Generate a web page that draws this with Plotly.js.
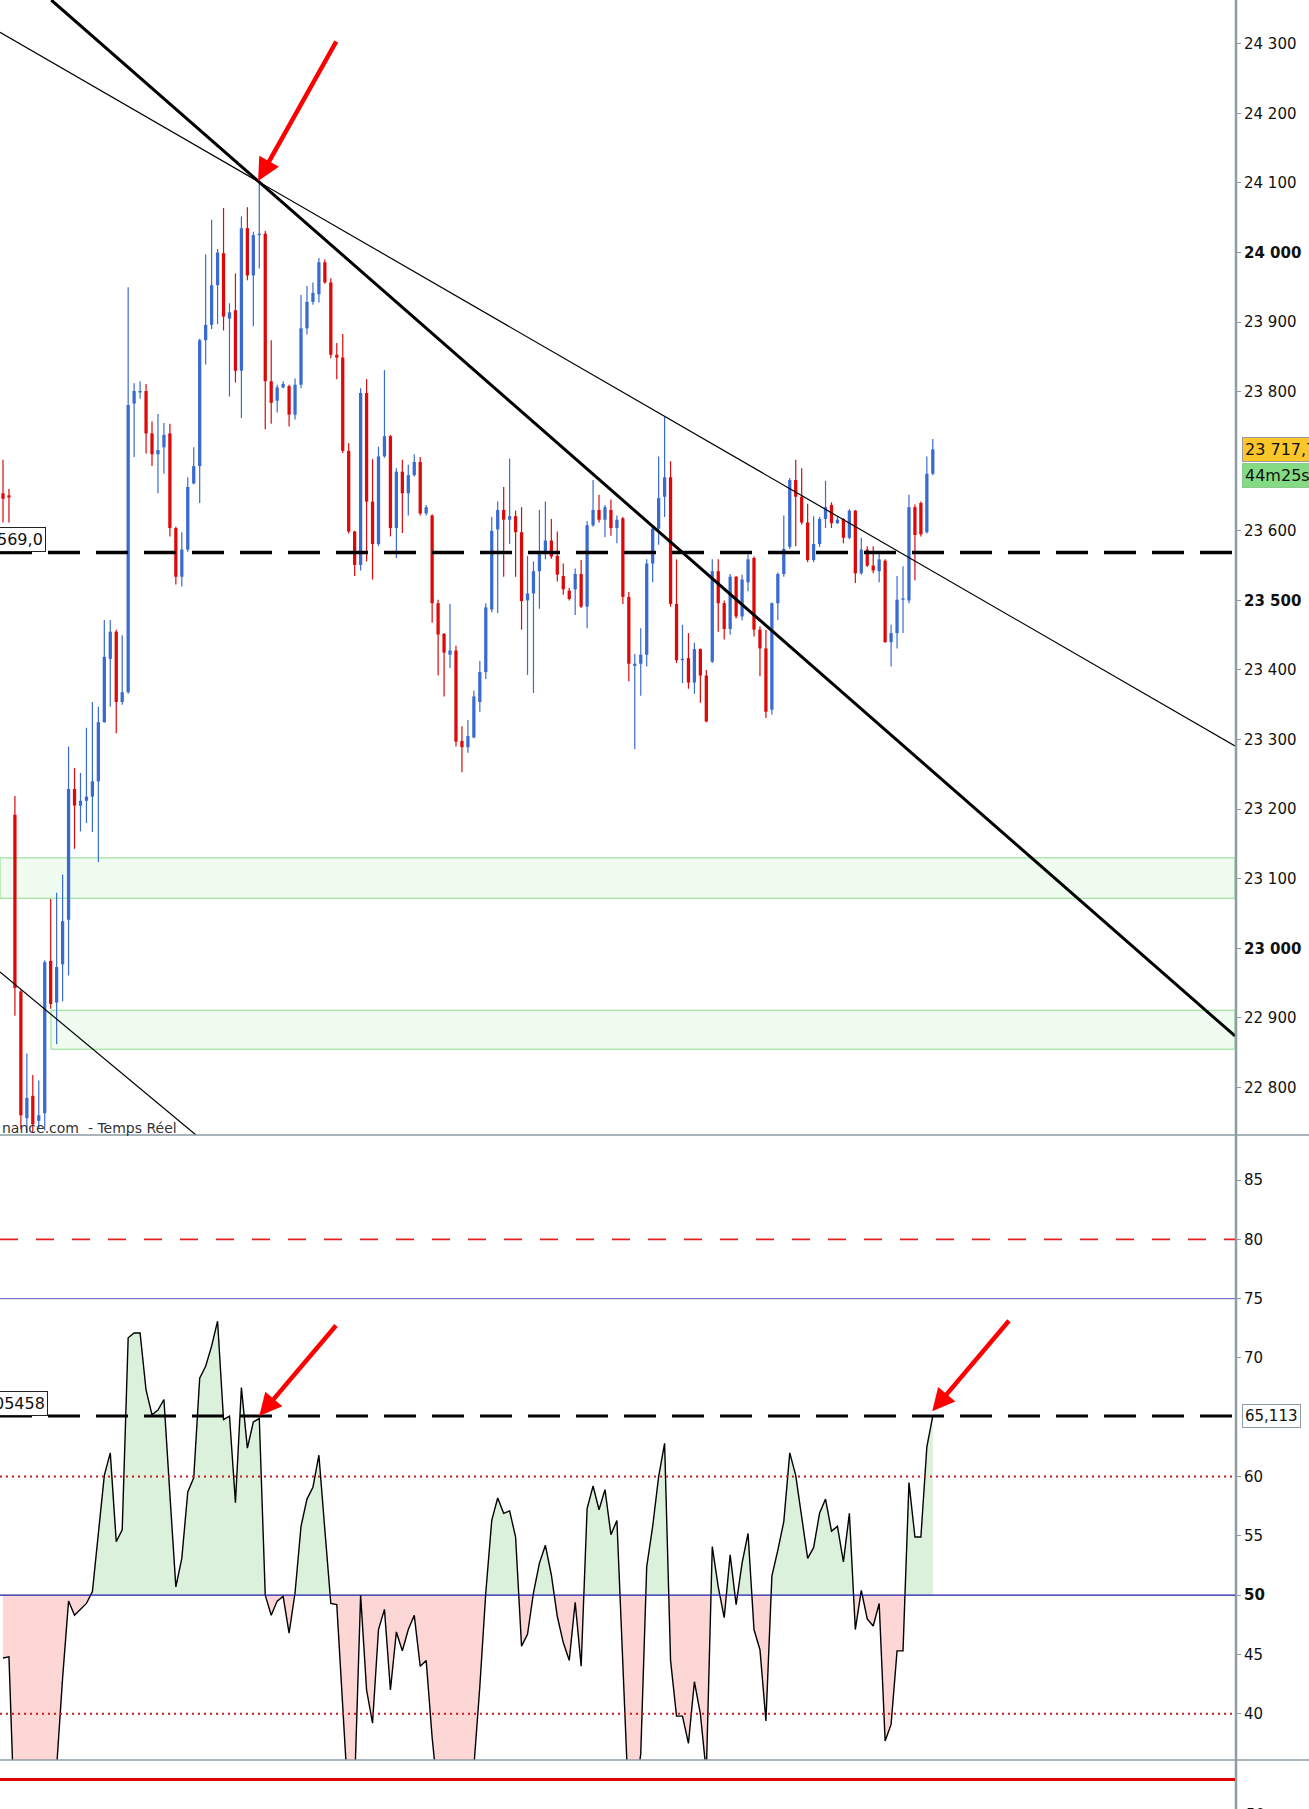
<!DOCTYPE html>
<html><head><meta charset="utf-8">
<script src="https://cdn.plot.ly/plotly-3.0.1.min.js"></script>
<style>html,body{margin:0;padding:0;background:#fff;overflow:hidden}#chart{width:1309px;height:1809px}</style>
</head><body><div id="chart"></div>
<script>
const openP = [23654,23651,23192,22938,22756,22788,22752,22763,22982,22922,
22977,23041,23229,23205,23212,23218,23240,23325,23416,23455,
23354,23368,23783,23799,23801,23740,23710,23720,23740,23604,
23534,23573,23668,23693,23874,23896,23953,23999,23905,23917,
23830,24035,23967,24025,24027,23815,23787,23806,23808,23767,
23810,23891,23929,23940,23986,23957,23853,23849,23715,23599,
23551,23798,23642,23581,23707,23736,23604,23685,23654,23680,
23699,23625,23622,23496,23452,23422,23428,23298,23289,23303,
23354,23397,23487,23602,23630,23616,23621,23598,23500,23510,
23542,23568,23586,23564,23535,23514,23516,23538,23491,23608,
23630,23616,23630,23604,23618,23505,23406,23409,23422,23553,
23603,23649,23677,23495,23414,23417,23382,23430,23392,23412,
23542,23496,23459,23534,23477,23526,23561,23458,23431,23343,
23496,23538,23577,23673,23649,23612,23558,23581,23617,23637,
23611,23617,23590,23629,23539,23573,23550,23542,23557,23440,
23453,23501,23500,23634,23640,23598,23682];
const highP = [23702,23660,23219,22940,22849,22818,22810,22983,23071,23080,
23106,23290,23259,23252,23317,23354,23347,23472,23472,23458,
23450,23950,23812,23815,23811,23757,23768,23755,23754,23606,
23598,23677,23720,23876,23997,24047,24005,24064,23927,23970,
24052,24065,24030,24102,24031,23874,23810,23815,23810,23819,
23939,23952,23957,23992,23990,23963,23870,23883,23726,23600,
23805,23818,23703,23721,23831,23738,23690,23702,23695,23710,
23706,23637,23624,23501,23453,23495,23435,23319,23328,23370,
23413,23496,23620,23642,23663,23704,23629,23634,23564,23556,
23630,23642,23617,23599,23553,23518,23546,23558,23614,23673,
23652,23637,23645,23622,23620,23512,23423,23460,23559,23606,
23707,23764,23700,23559,23465,23453,23439,23431,23400,23559,
23559,23500,23538,23535,23537,23566,23563,23463,23458,23497,
23540,23622,23676,23702,23690,23639,23621,23620,23672,23641,
23620,23618,23631,23630,23590,23578,23578,23569,23559,23465,
23535,23549,23652,23638,23642,23707,23732];
const lowP = [23612,23612,22903,22740,22735,22735,22740,22738,22913,22862,
22924,22961,23143,23168,23180,23167,23124,23324,23347,23309,
23350,23366,23706,23790,23711,23693,23654,23682,23592,23523,
23520,23570,23667,23640,23839,23890,23897,23888,23793,23813,
23762,23960,23894,23977,23746,23754,23770,23805,23750,23760,
23805,23882,23925,23928,23955,23848,23818,23712,23596,23535,
23543,23556,23530,23578,23705,23592,23561,23597,23622,23678,
23622,23622,23468,23392,23362,23403,23290,23253,23281,23302,
23340,23387,23483,23482,23534,23581,23534,23458,23393,23367,
23488,23559,23560,23527,23508,23500,23479,23489,23460,23606,
23612,23591,23593,23582,23495,23384,23286,23363,23405,23526,
23580,23620,23491,23410,23381,23373,23366,23353,23325,23410,
23455,23444,23451,23474,23471,23513,23448,23391,23331,23336,
23472,23534,23574,23578,23609,23555,23555,23577,23604,23604,
23610,23582,23588,23525,23537,23548,23539,23526,23439,23405,
23431,23453,23496,23529,23592,23596,23680];
const closeP = [23646,23648,22943,22760,22785,22747,22760,22980,22920,22973,
23039,23229,23205,23212,23218,23240,23325,23419,23455,23354,
23368,23781,23801,23800,23740,23710,23716,23738,23604,23534,
23573,23663,23693,23874,23896,23953,24000,23908,23914,23830,
24035,23967,24025,24027,23815,23784,23806,23811,23767,23810,
23891,23929,23942,23986,23957,23853,23849,23715,23599,23551,
23798,23642,23581,23707,23736,23604,23685,23654,23680,23699,
23625,23634,23496,23451,23425,23428,23297,23289,23305,23362,
23397,23490,23600,23630,23616,23621,23598,23499,23510,23542,
23568,23586,23563,23537,23516,23502,23538,23491,23608,23630,
23616,23634,23604,23616,23505,23409,23409,23422,23553,23603,
23647,23677,23495,23414,23416,23382,23430,23392,23326,23542,
23496,23459,23534,23477,23530,23559,23458,23431,23340,23496,
23538,23574,23673,23649,23612,23558,23581,23617,23634,23611,
23616,23590,23629,23539,23573,23550,23543,23559,23440,23453,
23501,23502,23634,23594,23595,23682,23717];
const rsi = [44.7,44.8,30,24,27,25,26,33,31,35.5,
43,49.5,48.3,48.8,49.3,50.3,55.2,60.1,62,54.5,
55.5,71.7,72.1,72.1,67.3,65.2,65.6,66.5,58.5,50.7,
53.1,58.7,59.9,68.3,69.3,71,73.1,64.8,65.1,57.8,
67.5,62.4,64.6,64.9,50,48.3,49.5,49.9,46.8,50.2,
55.8,58.1,59.1,61.8,55.5,49.3,49.2,39.8,32,34,
50,42,39.2,47.1,48.8,42,46.9,45.3,47.1,48.3,
44,44.5,38,33,31,33,27,26,28,35.5,
42.3,50.2,56.3,58.2,56.9,57.1,54.9,45.7,46.7,50.2,
52.7,54.2,51.7,48.2,46,44.5,49.4,44,57.3,59.2,
57.2,58.9,55.1,56.3,44,32,33,36.6,52.4,55.8,
60,62.8,44.5,39.8,39.8,37.5,42.7,40,35,54.1,
50.7,48.1,53.4,49.2,52.7,55.2,47.1,45.4,39.4,51.6,
53.8,56.2,62,60.1,56.6,53.1,54,56.9,58.1,55.4,
55.8,52.8,56.9,47.1,50.4,48,47.4,49.3,37.7,39.1,
45.3,45.3,59.5,54.9,54.9,62.5,65.113];

const priceTickVals = [22800,22900,23000,23100,23200,23300,23400,23500,23600,23800,23900,24000,24100,24200,24300];
const priceTickText = ['22 800','22 900','<b>23 000</b>','23 100','23 200','23 300','23 400','<b>23 500</b>','23 600','23 800','23 900','<b>24 000</b>','24 100','24 200','24 300'];
const rsiTickVals = [40,45,50,55,60,70,75,80,85];
const rsiTickText = ['40','45','<b>50</b>','55','60','70','75','80','85'];

const supportLevel = 23569.0;
const rsiRefLevel = 65.113;
const rsiLines = [80,75,60,50,40];
const zoneUpper = [23072,23130];
const zoneLower = [22855,22911];
const lastPriceText = '23 717,70';
const timerText = '44m25s';

const FONT = 'DejaVu Sans';
const BLUE = '#3a6bd0', RED = '#dc0a0a';
const X0 = -0.503, X1 = 206.7;

const idx = openP.map((_, i) => i);
const upIdx = idx.filter(i => closeP[i] >= openP[i]);
const dnIdx = idx.filter(i => closeP[i] < openP[i]);
function wicks(list){const x=[],y=[];list.forEach(i=>{x.push(i,i,null);y.push(lowP[i],highP[i],null);});return {x,y};}
function bodies(list){return {x:list, base:list.map(i=>Math.min(openP[i],closeP[i])), y:list.map(i=>Math.max(Math.abs(closeP[i]-openP[i]),2))};}
const wu=wicks(upIdx), wd=wicks(dnIdx), bu=bodies(upIdx), bd=bodies(dnIdx);

const fx=[], fy=[];
for(let i=0;i<rsi.length;i++){
  fx.push(i); fy.push(rsi[i]);
  if(i<rsi.length-1 && (rsi[i]-50)*(rsi[i+1]-50)<0){
    const t=(50-rsi[i])/(rsi[i+1]-rsi[i]); fx.push(i+t); fy.push(50);
  }
}
const base50 = fx.map(()=>50);
const upperY = fy.map(v=>Math.max(v,50));
const lowerY = fy.map(v=>Math.min(v,50));

const traces = [
  {type:'scatter',mode:'lines',x:wu.x,y:wu.y,line:{color:BLUE,width:1.2},hoverinfo:'skip',xaxis:'x',yaxis:'y'},
  {type:'scatter',mode:'lines',x:wd.x,y:wd.y,line:{color:RED,width:1.2},hoverinfo:'skip',xaxis:'x',yaxis:'y'},
  {type:'bar',x:bu.x,base:bu.base,y:bu.y,width:0.55,marker:{color:BLUE,line:{width:0}},xaxis:'x',yaxis:'y'},
  {type:'bar',x:bd.x,base:bd.base,y:bd.y,width:0.55,marker:{color:RED,line:{width:0}},xaxis:'x',yaxis:'y'},
  {type:'scatter',mode:'lines',x:fx,y:base50,line:{width:0},hoverinfo:'skip',xaxis:'x',yaxis:'y2'},
  {type:'scatter',mode:'lines',x:fx,y:upperY,fill:'tonexty',fillcolor:'#dcf1dc',line:{width:0},hoverinfo:'skip',xaxis:'x',yaxis:'y2'},
  {type:'scatter',mode:'lines',x:fx,y:base50,line:{width:0},hoverinfo:'skip',xaxis:'x',yaxis:'y2'},
  {type:'scatter',mode:'lines',x:fx,y:lowerY,fill:'tonexty',fillcolor:'#fdd6d6',line:{width:0},hoverinfo:'skip',xaxis:'x',yaxis:'y2'},
  {type:'scatter',mode:'lines',x:idx,y:rsi,line:{color:'#000',width:1.4},hoverinfo:'skip',xaxis:'x',yaxis:'y2'}
];

const pY1 = (1809-1135)/1809, pY2 = (1809-1760)/1809;
const rsiStyles = {80:{color:'#e52020',width:1.6,dash:'18px,18px'},75:{color:'#5a5ac0',width:1},60:{color:'#cc1a1a',width:2,dash:'2px,4px'},50:{color:'#1c1caa',width:1.3},40:{color:'#cc1a1a',width:2,dash:'2px,4px'}};
const shapes = [
  {type:'rect',xref:'x',yref:'y',x0:X0,x1:X1,y0:zoneUpper[0],y1:zoneUpper[1],fillcolor:'#effcef',line:{color:'#8edc8e',width:1},layer:'below'},
  {type:'rect',xref:'x',yref:'y',x0:8.05,x1:X1,y0:zoneLower[0],y1:zoneLower[1],fillcolor:'#effcef',line:{color:'#8edc8e',width:1},layer:'below'},
  {type:'line',xref:'x',yref:'y',x0:8.09,y0:24362.9,x1:X1,y1:22874,line:{color:'#000',width:3}},
  {type:'line',xref:'x',yref:'y',x0:X0,y0:24316.5,x1:X1,y1:23290.8,line:{color:'#000',width:1.2}},
  {type:'line',xref:'x',yref:'y',x0:X0,y0:22966.1,x1:32.38,y1:22731.7,line:{color:'#000',width:1.2}},
  {type:'line',xref:'paper',yref:'y',x0:0,x1:1,y0:supportLevel,y1:supportLevel,line:{color:'#000',width:3.5,dash:'32px,16px'}},
  {type:'line',xref:'paper',yref:'y2',x0:0,x1:1,y0:rsiRefLevel,y1:rsiRefLevel,line:{color:'#000',width:3,dash:'32px,16px'}},
  {type:'line',xref:'paper',yref:'paper',x0:0,x1:1309/1235,y0:pY1,y1:pY1,line:{color:'#8e9ca4',width:1.5}},
  {type:'line',xref:'paper',yref:'paper',x0:0,x1:1309/1235,y0:pY2,y1:pY2,line:{color:'#8e9ca4',width:1.5}},
  {type:'line',xref:'paper',yref:'paper',x0:1236/1235,x1:1236/1235,y0:0,y1:1,line:{color:'#8e9ca4',width:2.5}},
  {type:'line',xref:'paper',yref:'paper',x0:0,x1:1,y0:(1809-1779.5)/1809,y1:(1809-1779.5)/1809,line:{color:'#e00000',width:3}}
];
rsiLines.forEach(v=>shapes.push({type:'line',xref:'paper',yref:'y2',x0:0,x1:1,y0:v,y1:v,line:rsiStyles[v]}));

const lblFont = {family:FONT,size:15,color:'#111'};
const annotations = [
  {xref:'paper',yref:'y',x:1242/1235,y:23717,xanchor:'left',yanchor:'middle',text:lastPriceText,showarrow:false,bgcolor:'#fbc62a',bordercolor:'#9a9a9a',borderwidth:1,borderpad:2,font:{family:FONT,size:16,color:'#111'}},
  {xref:'paper',yref:'y',x:1242/1235,y:23717,yshift:-26,xanchor:'left',yanchor:'middle',text:timerText,showarrow:false,bgcolor:'#84db84',bordercolor:'#8fc88f',borderwidth:1,borderpad:2,font:{family:FONT,size:16,color:'#111'}},
  {xref:'paper',yref:'y2',x:1242/1235,y:rsiRefLevel,xanchor:'left',yanchor:'middle',text:'65,113',showarrow:false,bgcolor:'#fff',bordercolor:'#8e9ca4',borderwidth:1,borderpad:2,font:lblFont},
  {xref:'paper',yref:'y',x:46/1235,y:supportLevel,xanchor:'right',yanchor:'bottom',text:'569,0',showarrow:false,bgcolor:'#fff',bordercolor:'#222',borderwidth:1,borderpad:2,font:{family:FONT,size:16,color:'#111'}},
  {xref:'paper',yref:'y2',x:48/1235,y:rsiRefLevel,xanchor:'right',yanchor:'bottom',text:'05458',showarrow:false,bgcolor:'#fff',bordercolor:'#222',borderwidth:1,borderpad:2,font:{family:FONT,size:16,color:'#111'}},
  {xref:'paper',yref:'paper',x:0,y:(1809-1128)/1809,xanchor:'left',yanchor:'middle',text:'nance.com  - Temps Réel',showarrow:false,font:{family:FONT,size:14,color:'#333'}},
  {xref:'paper',yref:'paper',x:1244/1235,y:(1809-1815)/1809,xanchor:'left',yanchor:'middle',text:'50',showarrow:false,font:{family:FONT,size:15,color:'#111'}},
  {xref:'x',yref:'y',x:42.8,y:24102.8,ax:79,ay:-141,text:'',showarrow:true,arrowhead:2,arrowsize:1,arrowwidth:4.5,arrowcolor:'#ff0000',standoff:0},
  {xref:'x',yref:'y2',x:43.0,y:65.1,ax:78,ay:-92,text:'',showarrow:true,arrowhead:2,arrowsize:1,arrowwidth:4.5,arrowcolor:'#ff0000',standoff:0},
  {xref:'x',yref:'y2',x:155.9,y:65.5,ax:78,ay:-92,text:'',showarrow:true,arrowhead:2,arrowsize:1,arrowwidth:4.5,arrowcolor:'#ff0000',standoff:0}
];

const axisCommon = {side:'right',ticks:'outside',ticklen:5,tickcolor:'#8e9ca4',tickwidth:1,showgrid:false,zeroline:false,showline:false,fixedrange:true,tickfont:{family:FONT,size:15,color:'#111'},anchor:'x'};
const layout = {
  width:1309,height:1809,margin:{l:0,r:74,t:0,b:0,pad:0},
  paper_bgcolor:'#fff',plot_bgcolor:'#fff',showlegend:false,barmode:'overlay',
  font:{family:FONT},
  xaxis:{domain:[0,1],range:[X0,X1],visible:false,fixedrange:true},
  yaxis:Object.assign({},axisCommon,{domain:[pY1,1],range:[22731.7,24362.9],tickmode:'array',tickvals:priceTickVals,ticktext:priceTickText}),
  yaxis2:Object.assign({},axisCommon,{domain:[pY2,pY1],range:[36.1,88.8],tickmode:'array',tickvals:rsiTickVals,ticktext:rsiTickText}),
  shapes:shapes,annotations:annotations
};
Plotly.newPlot('chart',traces,layout,{displayModeBar:false,staticPlot:true});
</script></body></html>
